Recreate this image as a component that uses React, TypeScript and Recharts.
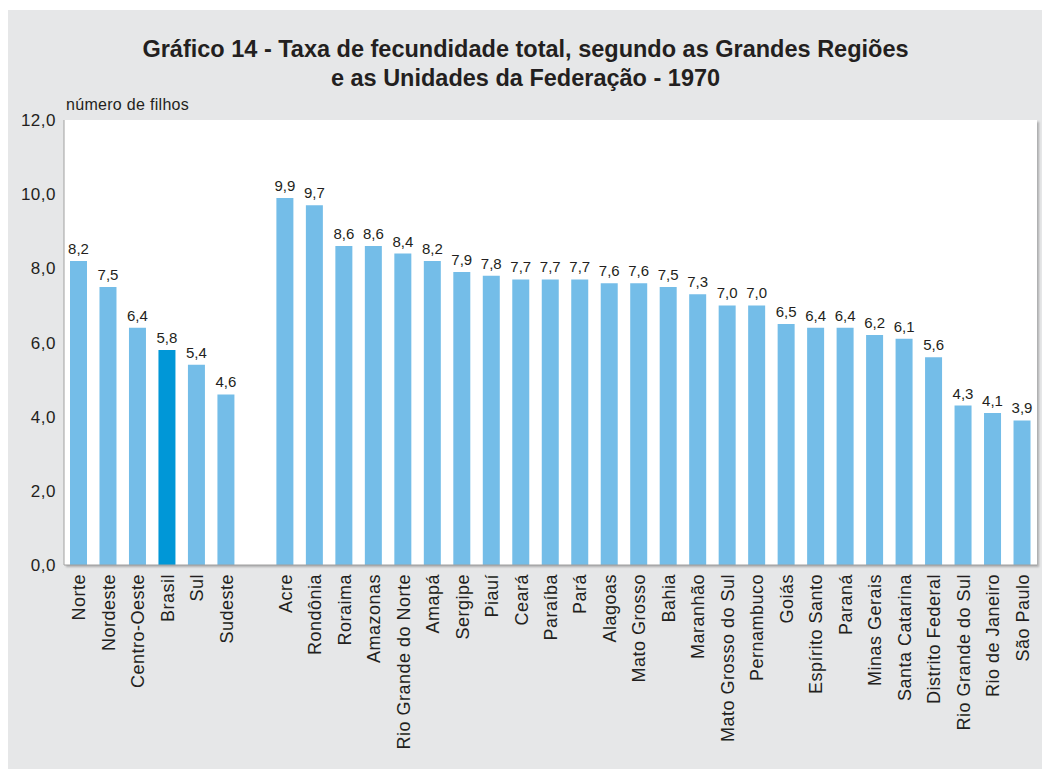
import { Bar, BarChart, Cell, LabelList, XAxis, YAxis } from 'recharts';

// Grandes Regiões (Brasil em destaque), depois um espaço, depois as UFs
const regions = ['Norte', 'Nordeste', 'Centro-Oeste', 'Brasil', 'Sul', 'Sudeste'];
const regionValues = [8.2, 7.5, 6.4, 5.8, 5.4, 4.6];

const states = [
  'Acre', 'Rondônia', 'Roraima', 'Amazonas', 'Rio Grande do Norte', 'Amapá', 'Sergipe',
  'Piauí', 'Ceará', 'Paraíba', 'Pará', 'Alagoas', 'Mato Grosso', 'Bahia', 'Maranhão',
  'Mato Grosso do Sul', 'Pernambuco', 'Goiás', 'Espírito Santo', 'Paraná', 'Minas Gerais',
  'Santa Catarina', 'Distrito Federal', 'Rio Grande do Sul', 'Rio de Janeiro', 'São Paulo',
];
const stateValues = [
  9.9, 9.7, 8.6, 8.6, 8.4, 8.2, 7.9, 7.8, 7.7, 7.7, 7.7, 7.6, 7.6, 7.5, 7.3,
  7.0, 7.0, 6.5, 6.4, 6.4, 6.2, 6.1, 5.6, 4.3, 4.1, 3.9,
];

const yTicks = [0, 2, 4, 6, 8, 10, 12];

const c = {
  bg: '#e6e7e8',
  text: '#231f20',
  frame: '#a0a0a0',
  bar: '#74bde8',
  highlight: '#0097d7',
};

const font = '"Liberation Sans", Arial, Helvetica, sans-serif';

const data = [
  ...regions.map((name, i) => ({ name, value: regionValues[i] })),
  { name: '', value: null as number | null },
  ...states.map((name, i) => ({ name, value: stateValues[i] })),
];

const fmt = (v: number) => v.toFixed(1).replace('.', ',');

const CategoryTick = (props: any) => {
  const { x, y, payload } = props;
  if (!payload.value) return null;
  return (
    <text
      x={0}
      y={0}
      transform={`translate(${x + 6.5},${y + 1}) rotate(-90)`}
      textAnchor="end"
      fontSize={18}
      letterSpacing={0.5}
      fill={c.text}
      fontFamily={font}
    >
      {payload.value}
    </text>
  );
};

export default function App() {
  return (
    <div style={{ position: 'relative', width: 1035, height: 759, marginTop: 2, background: c.bg, fontFamily: font }}>
      <div
        style={{
          position: 'absolute',
          top: 25,
          left: 0,
          width: '100%',
          textAlign: 'center',
          fontWeight: 'bold',
          fontSize: 23.5,
          lineHeight: '29px',
          color: c.text,
        }}
      >
        Gráfico 14 - Taxa de fecundidade total, segundo as Grandes Regiões
        <br />
        e as Unidades da Federação - 1970
      </div>
      <div style={{ position: 'absolute', top: 86, left: 58, fontSize: 16, letterSpacing: 0.3, color: c.text }}>
        número de filhos
      </div>
      <div
        style={{
          position: 'absolute',
          left: 56,
          top: 110,
          width: 973,
          height: 445,
          background: '#fff',
          boxShadow: '2px 2px 2px rgba(0,0,0,0.25)',
        }}
      />
      <div style={{ position: 'absolute', left: 0, top: 0 }}>
        <BarChart width={1035} height={759} data={data} margin={{ top: 110, right: 6, left: 0, bottom: 0 }} barSize={17}>
          <XAxis
            dataKey="name"
            interval={0}
            height={204}
            tick={<CategoryTick />}
            tickLine={false}
            axisLine={{ stroke: c.frame }}
          />
          <XAxis xAxisId="top" dataKey="name" orientation="top" height={0} tick={false} tickLine={false} axisLine={{ stroke: c.frame }} />
          <YAxis
            domain={[0, 12]}
            ticks={yTicks}
            width={56}
            tickFormatter={fmt}
            tick={{ fontSize: 17, fill: c.text, fontFamily: font, letterSpacing: 0.5 }}
            tickLine={false}
            axisLine={{ stroke: c.frame }}
          />
          <YAxis yAxisId="right" orientation="right" width={0} tick={false} tickLine={false} axisLine={{ stroke: c.frame }} />
          <Bar dataKey="value" fill={c.bar} isAnimationActive={false}>
            {data.map((d) => (
              <Cell key={d.name || 'gap'} fill={d.name === 'Brasil' ? c.highlight : c.bar} />
            ))}
            <LabelList
              dataKey="value"
              position="top"
              offset={7}
              formatter={(v: any) => (v == null ? '' : fmt(Number(v)))}
              style={{ fontSize: 15, fill: c.text, fontFamily: font }}
            />
          </Bar>
        </BarChart>
      </div>
    </div>
  );
}
